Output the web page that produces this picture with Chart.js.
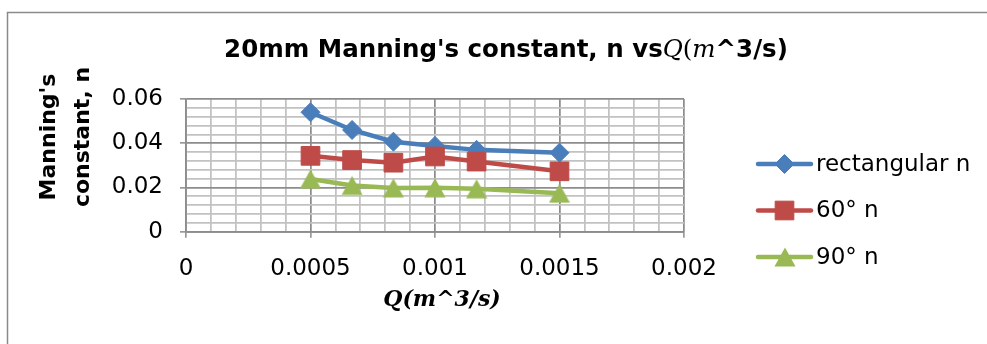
<!DOCTYPE html>
<html>
<head>
<meta charset="utf-8">
<script src="https://cdn.jsdelivr.net/npm/chart.js@4"></script>
<style>
  html, body { margin: 0; padding: 0; background: #ffffff; overflow: hidden; }
  #wrap { width: 987px; height: 344px; position: relative; overflow: hidden; }
  #chart { display: block; }
</style>
</head>
<body>
<div id="wrap"><canvas id="chart" width="987" height="344"></canvas></div>
<script>
// Flow rate Q (m^3/s) and Manning's n for the three 20 mm channel sections
const flowQ        = [0.0005, 0.000667, 0.000833, 0.001, 0.001167, 0.0015];
const rectangularN = [0.0540, 0.0460, 0.0407, 0.0388, 0.0370, 0.0357];
const sixtyDegN    = [0.0343, 0.0324, 0.0312, 0.0340, 0.0317, 0.0273];
const ninetyDegN   = [0.0238, 0.0209, 0.0198, 0.0199, 0.0194, 0.0174];

const seriesNames = ['rectangular n', '60° n', '90° n'];
const xTickLabels = ['0', '0.0005', '0.001', '0.0015', '0.002'];
const yTickLabels = ['0', '0.02', '0.04', '0.06'];

const BLUE = '#4A7EBB', RED = '#BE4B48', GREEN = '#98B954';
const MAJOR_GRID = '#8C8C8C', MINOR_GRID = '#C2C2C2';
const SANS = "'DejaVu Sans', sans-serif";
const SERIF = "'DejaVu Serif', serif";

// Upward triangle marker, centred on its bounding box
function makeTriangle(color, w, h) {
  const c = document.createElement('canvas');
  c.width = w; c.height = h;
  const g = c.getContext('2d');
  g.beginPath();
  g.moveTo(w / 2, 0.5);
  g.lineTo(w - 0.5, h - 0.5);
  g.lineTo(0.5, h - 0.5);
  g.closePath();
  g.fillStyle = color;
  g.fill();
  return c;
}
const triangleMark = makeTriangle(GREEN, 22, 20);

const toPoints = ys => flowQ.map((q, i) => ({ x: q, y: ys[i] }));

// x axis: minor step 0.0001, labelled every 0.0005; y axis: minor 0.004, labelled every 0.02
const X_MINOR = 0.0001, X_PER_MAJOR = 5;
const Y_MINOR = 0.004,  Y_PER_MAJOR = 5;
const majorIndex = (v, step, per) => {
  const k = Math.round(v / step);
  return k % per === 0 ? k / per : -1;
};

// White page with the outer chart frame (its right and bottom sides run off the page)
const framePlugin = {
  id: 'frame',
  beforeDraw(chart) {
    const ctx = chart.ctx;
    ctx.save();
    ctx.fillStyle = '#ffffff';
    ctx.fillRect(0, 0, chart.width, chart.height);
    ctx.strokeStyle = '#8A8A8A';
    ctx.lineWidth = 1.5;
    ctx.beginPath();
    ctx.moveTo(7.5, chart.height + 5);
    ctx.lineTo(7.5, 12.5);
    ctx.lineTo(chart.width + 5, 12.5);
    ctx.stroke();
    ctx.restore();
  }
};

// Title with the math-style flow-rate unit, the two-line y-axis title and the x-axis title
const titlesPlugin = {
  id: 'titles',
  afterDraw(chart) {
    const ctx = chart.ctx;
    ctx.save();
    ctx.fillStyle = '#000000';
    ctx.textBaseline = 'alphabetic';
    const parts = [
      { t: "20mm Manning's constant, n vs", f: `bold 24.5px ${SANS}` },
      { t: 'Q', f: `italic 24.5px ${SERIF}` },
      { t: '(', f: `24.5px ${SERIF}` },
      { t: 'm', f: `italic 24.5px ${SERIF}` },
      { t: '^3/s)', f: `bold 24.5px ${SANS}` }
    ];
    let total = 0;
    parts.forEach(p => { ctx.font = p.f; p.w = ctx.measureText(p.t).width; total += p.w; });
    let x = 506 - total / 2;
    parts.forEach(p => { ctx.font = p.f; ctx.textAlign = 'left'; ctx.fillText(p.t, x, 56.5); x += p.w; });

    ctx.font = `bold 22px ${SANS}`;
    ctx.textAlign = 'center';
    [["Manning's", 55], ['constant, n', 89]].forEach(([txt, bx]) => {
      ctx.save();
      ctx.translate(bx, 137);
      ctx.rotate(-Math.PI / 2);
      ctx.fillText(txt, 0, 0);
      ctx.restore();
    });

    ctx.font = `italic bold 22px ${SERIF}`;
    ctx.textAlign = 'center';
    ctx.fillText('Q(m^3/s)', 442, 306);
    ctx.restore();
  }
};

// Legend on the right: line sample with the series marker in its middle
function drawMarker(ctx, ds, x, y) {
  ctx.save();
  if (ds.pointStyle instanceof HTMLCanvasElement) {
    ctx.drawImage(ds.pointStyle, Math.round(x - ds.pointStyle.width / 2), Math.round(y - ds.pointStyle.height / 2));
  } else {
    ctx.fillStyle = ds.pointBackgroundColor;
    ctx.strokeStyle = ds.pointBorderColor;
    ctx.lineWidth = 1;
    ctx.beginPath();
    const r = ds.pointRadius;
    if (ds.pointStyle === 'rectRot') {
      ctx.moveTo(x - r, y); ctx.lineTo(x, y - r); ctx.lineTo(x + r, y); ctx.lineTo(x, y + r);
    } else {
      const s = Math.SQRT1_2 * r;
      ctx.rect(x - s, y - s, 2 * s, 2 * s);
    }
    ctx.closePath();
    ctx.fill();
    ctx.stroke();
  }
  ctx.restore();
}
const legendPlugin = {
  id: 'sideLegend',
  afterDraw(chart) {
    const ctx = chart.ctx;
    const rows = [164, 210.5, 257];
    chart.data.datasets.forEach((ds, i) => {
      const y = rows[i];
      ctx.save();
      ctx.strokeStyle = ds.borderColor;
      ctx.lineWidth = ds.borderWidth;
      ctx.lineCap = 'round';
      ctx.beginPath();
      ctx.moveTo(758, y);
      ctx.lineTo(811, y);
      ctx.stroke();
      ctx.restore();
      drawMarker(ctx, ds, 784.5, y);
      ctx.save();
      ctx.fillStyle = '#000000';
      ctx.font = `23px ${SANS}`;
      ctx.textAlign = 'left';
      ctx.textBaseline = 'middle';
      ctx.fillText(ds.label, 816, y + 1);
      ctx.restore();
    });
  }
};

new Chart(document.getElementById('chart'), {
  type: 'scatter',
  data: {
    datasets: [
      {
        label: seriesNames[0], data: toPoints(rectangularN), showLine: true,
        borderColor: BLUE, backgroundColor: BLUE, borderWidth: 4.5,
        pointStyle: 'rectRot', pointRadius: 9.5, pointBackgroundColor: BLUE,
        pointBorderColor: BLUE, pointBorderWidth: 1, order: 3
      },
      {
        label: seriesNames[1], data: toPoints(sixtyDegN), showLine: true,
        borderColor: RED, backgroundColor: RED, borderWidth: 4.5,
        pointStyle: 'rect', pointRadius: 13.2, pointBackgroundColor: RED,
        pointBorderColor: RED, pointBorderWidth: 1, order: 2
      },
      {
        label: seriesNames[2], data: toPoints(ninetyDegN), showLine: true,
        borderColor: GREEN, backgroundColor: GREEN, borderWidth: 4.5,
        pointStyle: triangleMark, pointRadius: 10, pointBackgroundColor: GREEN,
        pointBorderColor: GREEN, order: 1
      }
    ]
  },
  options: {
    responsive: false,
    animation: false,
    devicePixelRatio: 1,
    layout: { padding: { left: 0, top: 99, right: 303, bottom: 0 } },
    plugins: {
      legend: { display: false },
      title: { display: false },
      tooltip: { enabled: false }
    },
    elements: { line: { tension: 0 } },
    scales: {
      x: {
        type: 'linear', min: 0, max: 0.002,
        afterFit(scale) { scale.height = 112.3; },
        ticks: {
          stepSize: X_MINOR, autoSkip: false, minRotation: 0, maxRotation: 0,
          padding: 18, color: '#000000', font: { family: SANS, size: 23 },
          callback(v) {
            const k = majorIndex(v, X_MINOR, X_PER_MAJOR);
            return k >= 0 ? xTickLabels[k] : '';
          }
        },
        grid: {
          lineWidth: 1.75, tickLength: 6, tickWidth: 1.5,
          color(ctx) { return majorIndex(ctx.tick.value, X_MINOR, X_PER_MAJOR) >= 0 ? MAJOR_GRID : MINOR_GRID; },
          tickColor(ctx) { return majorIndex(ctx.tick.value, X_MINOR, X_PER_MAJOR) >= 0 ? MAJOR_GRID : 'rgba(0,0,0,0)'; }
        },
        border: { color: MAJOR_GRID, width: 1.75 }
      },
      y: {
        type: 'linear', min: 0, max: 0.06,
        afterFit(scale) { scale.width = 186; },
        ticks: {
          stepSize: Y_MINOR, autoSkip: false,
          padding: 17, color: '#000000', font: { family: SANS, size: 23 },
          callback(v) {
            const k = majorIndex(v, Y_MINOR, Y_PER_MAJOR);
            return k >= 0 ? yTickLabels[k] : '';
          }
        },
        grid: {
          lineWidth: 1.75, tickLength: 6, tickWidth: 1.5,
          color(ctx) { return majorIndex(ctx.tick.value, Y_MINOR, Y_PER_MAJOR) >= 0 ? MAJOR_GRID : MINOR_GRID; },
          tickColor(ctx) { return majorIndex(ctx.tick.value, Y_MINOR, Y_PER_MAJOR) >= 0 ? MAJOR_GRID : 'rgba(0,0,0,0)'; }
        },
        border: { color: MAJOR_GRID, width: 1.75 }
      }
    }
  },
  plugins: [framePlugin, titlesPlugin, legendPlugin]
});
</script>
</body>
</html>
